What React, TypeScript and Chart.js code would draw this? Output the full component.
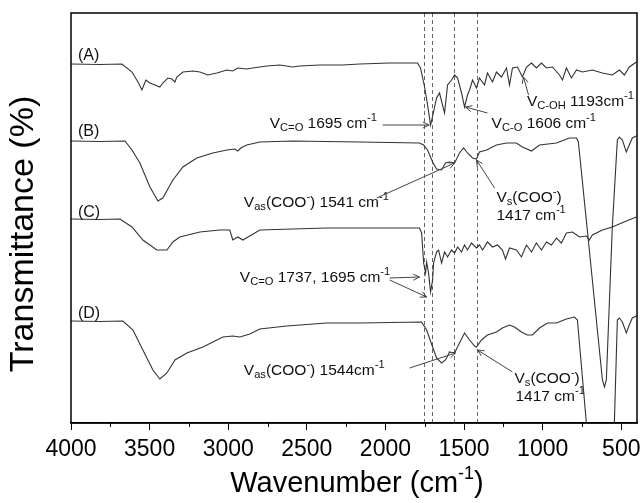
import React, { useEffect, useRef } from 'react';
import { Chart, registerables } from 'chart.js';
Chart.register(...registerables);

const FONT = '"Liberation Sans", Arial, sans-serif';
const X_MIN = 400;
const X_MAX = 4000;
const Y_MIN = 0;
const Y_MAX = 82;
const xTicks = [4000, 3500, 3000, 2500, 2000, 1500, 1000, 500];
const xMinorTicks = [3750, 3250, 2750, 2250, 1750, 1250, 750];
const dashedLines = [1755, 1705, 1565, 1420];

const wnA = [4000,3816,3676,3612,3574,3549,3524,3498,3466,3435,3416,3384,3358,3339,3327,3288,3225,3180,3130,3072,3009,2971,2939,2882,2844,2755,2672,2590,2545,2418,2272,2164,1973,1796,1777,1751,1732,1713,1694,1675,1656,1637,1624,1605,1580,1560,1541,1516,1497,1478,1465,1446,1421,1402,1370,1351,1319,1294,1262,1230,1211,1192,1160,1129,1103,1071,1040,1008,976,938,893,874,849,817,785,747,684,620,557,512,480,449,404];
const tA = [71.8,71.7,71.8,70.2,68.2,66.6,68.6,68.0,67.6,67.2,68.0,69.0,68.8,68.2,69.2,70.2,70.4,70.2,69.6,70.0,70.6,70.4,71.0,70.8,71.0,71.4,71.6,71.2,71.4,71.6,71.6,71.8,72.0,72.0,71.0,67.2,63.6,59.6,62.2,65.0,66.0,63.6,62.0,67.6,68.6,69.6,69.0,66.0,63.2,65.6,66.6,68.6,67.0,69.0,67.6,70.0,68.2,70.2,69.2,71.0,67.6,71.0,71.2,69.2,71.2,72.0,71.0,72.0,71.0,71.2,69.6,68.6,71.0,69.0,70.6,70.2,70.6,70.0,69.6,70.6,69.6,71.2,72.2];

const wnB = [4000,3816,3657,3612,3562,3498,3447,3416,3352,3288,3200,3098,3009,2958,2939,2920,2882,2799,2590,2164,1783,1757,1732,1700,1675,1643,1618,1592,1560,1529,1503,1478,1446,1421,1402,1357,1294,1230,1167,1129,1071,1020,912,830,785,773,716,620,607,595,557,525,512,493,468,449,430,404];
const tB = [56.4,56.3,56.4,54.6,52.0,47.2,44.4,45.0,48.6,51.2,53.0,54.0,54.6,54.8,54.4,55.0,55.6,56.2,56.4,56.2,56.0,55.6,54.6,52.2,50.8,50.6,52.0,52.2,52.0,54.0,55.0,54.0,53.0,52.8,54.2,54.6,55.6,56.0,56.0,55.2,54.4,55.6,56.0,57.0,57.0,56.2,38.6,8.6,7.2,8.6,39.2,56.6,57.2,56.6,54.2,55.6,57.0,57.4];

const wnC = [4000,3816,3689,3612,3543,3454,3390,3352,3308,3180,3053,2990,2971,2939,2907,2863,2799,2590,2374,2164,1783,1770,1757,1745,1738,1726,1713,1700,1694,1675,1662,1643,1624,1605,1580,1560,1541,1516,1497,1478,1453,1421,1402,1382,1351,1319,1287,1256,1236,1211,1167,1135,1103,1071,1040,1008,976,944,912,881,849,811,766,722,703,684,620,557,468,404];
const tC = [40.8,40.7,40.8,39.2,36.6,34.6,34.6,36.2,37.2,38.2,38.6,38.6,36.6,37.2,36.6,37.4,38.6,38.8,39.0,39.0,39.0,38.0,32.0,30.0,32.2,30.0,26.2,28.6,32.0,34.2,34.6,32.0,34.2,33.2,34.6,34.0,35.2,34.2,35.6,34.6,36.0,35.0,35.6,34.6,36.2,35.2,35.6,34.6,32.8,35.0,34.6,33.2,35.6,34.2,36.0,34.6,36.2,35.6,37.0,36.0,38.0,38.2,37.2,37.4,36.6,37.6,38.6,39.2,40.4,41.2];

const wnD = [4000,3816,3670,3606,3543,3479,3435,3390,3339,3263,3161,3034,2971,2926,2863,2799,2628,2374,2164,1770,1738,1700,1675,1643,1618,1592,1560,1529,1497,1465,1433,1421,1389,1351,1294,1256,1211,1179,1135,1097,1065,1020,970,912,849,798,779,722,633,544,525,512,493,468,449,430,404];
const tD = [20.4,20.3,20.4,18.6,14.6,10.6,8.8,10.0,12.6,14.0,15.2,17.2,17.4,17.2,17.8,18.8,19.4,20.0,20.0,20.2,18.6,15.2,13.0,12.0,12.6,14.2,14.0,16.0,18.0,16.6,15.4,15.2,16.6,17.6,18.2,19.0,19.6,19.2,18.2,17.6,17.6,19.0,20.0,20.0,20.8,21.2,20.6,0,-35.4,0,20.6,21.0,20.2,18.0,19.6,21.0,21.4];

const seriesNames = ['(A)', '(B)', '(C)', '(D)'];
const seriesWn = [wnA, wnB, wnC, wnD];
const seriesT = [tA, tB, tC, tD];
const seriesLabelWn = [3956, 3956, 3956, 3956];
const seriesLabelT = [73.8, 58.6, 42.4, 22.2];

const annTexts = [
  'V_{C=O} 1695 cm^{-1}',
  'V_{C-O} 1606 cm^{-1}',
  'V_{C-OH} 1193cm^{-1}',
  'V_{as}(COO^{-}) 1541 cm^{-1}',
  'V_{s}(COO^{-})',
  '1417 cm^{-1}',
  'V_{C=O} 1737, 1695 cm^{-1}',
  'V_{as}(COO^{-}) 1544cm^{-1}',
  'V_{s}(COO^{-})',
  '1417 cm^{-1}',
];
const annWn = [2736, 1325, 1100, 2901, 1294, 1294, 2926, 2901, 1179, 1173];
const annT = [60.2, 60.2, 64.6, 44.4, 45.4, 41.8, 29.4, 10.8, 9.2, 5.6];

const arrowFromWn = [2018, 1351, 1090, 2056, 1306, 1973, 1973, 1846, 1192];
const arrowFromT = [59.6, 62.0, 65.6, 45.0, 47.0, 29.0, 28.6, 11.0, 10.2];
const arrowToWn = [1722, 1491, 1122, 1560, 1421, 1783, 1738, 1554, 1414];
const arrowToT = [59.6, 63.2, 69.2, 52.0, 52.6, 29.2, 25.2, 14.0, 14.6];

type Seg = { t: string; k: number };
function parseRich(s: string): Seg[] {
  const segs: Seg[] = [];
  let buf = '';
  let i = 0;
  while (i < s.length) {
    const c = s[i];
    if ((c === '_' || c === '^') && s[i + 1] === '{') {
      if (buf) { segs.push({ t: buf, k: 0 }); buf = ''; }
      const end = s.indexOf('}', i);
      segs.push({ t: s.slice(i + 2, end), k: c === '_' ? -1 : 1 });
      i = end + 1;
    } else { buf += c; i++; }
  }
  if (buf) segs.push({ t: buf, k: 0 });
  return segs;
}

function drawRich(ctx: CanvasRenderingContext2D, s: string, x: number, baseline: number, size: number, align: string, smallScale = 0.7, supRaise = 0.42, subDrop = 0.22) {
  const segs = parseRich(s);
  const small = size * smallScale;
  let w = 0;
  for (const sg of segs) {
    ctx.font = `${sg.k === 0 ? size : small}px ${FONT}`;
    w += ctx.measureText(sg.t).width;
  }
  let cx = align === 'center' ? x - w / 2 : x;
  ctx.textAlign = 'left';
  ctx.textBaseline = 'alphabetic';
  for (const sg of segs) {
    ctx.font = `${sg.k === 0 ? size : small}px ${FONT}`;
    const dy = sg.k === -1 ? size * subDrop : sg.k === 1 ? -size * supRaise : 0;
    ctx.fillText(sg.t, cx, baseline + dy);
    cx += ctx.measureText(sg.t).width;
  }
}

function drawArrow(ctx: CanvasRenderingContext2D, x1: number, y1: number, x2: number, y2: number) {
  const ang = Math.atan2(y2 - y1, x2 - x1);
  const L = 7;
  const sp = 0.45;
  ctx.beginPath();
  ctx.moveTo(x1, y1);
  ctx.lineTo(x2, y2);
  ctx.moveTo(x2 - L * Math.cos(ang - sp), y2 - L * Math.sin(ang - sp));
  ctx.lineTo(x2, y2);
  ctx.lineTo(x2 - L * Math.cos(ang + sp), y2 - L * Math.sin(ang + sp));
  ctx.stroke();
}

const overlay = {
  id: 'overlay',
  beforeDatasetsDraw(chart: any) {
    const { ctx, chartArea: a, scales } = chart;
    const x = scales.x;
    ctx.save();
    ctx.strokeStyle = '#666';
    ctx.lineWidth = 1;
    ctx.setLineDash([4, 3]);
    for (const v of dashedLines) {
      const px = Math.round(x.getPixelForValue(v)) + 0.5;
      ctx.beginPath();
      ctx.moveTo(px, a.top);
      ctx.lineTo(px, a.bottom);
      ctx.stroke();
    }
    ctx.restore();
  },
  afterDraw(chart: any) {
    const { ctx, chartArea: a, scales } = chart;
    const x = scales.x;
    const y = scales.y;
    ctx.save();
    ctx.strokeStyle = '#000';
    ctx.lineWidth = 1.5;
    ctx.strokeRect(a.left, a.top, a.right - a.left, a.bottom - a.top);
    ctx.lineWidth = 1;
    for (const v of xMinorTicks) {
      const px = Math.round(x.getPixelForValue(v)) + 0.5;
      ctx.beginPath();
      ctx.moveTo(px, a.bottom);
      ctx.lineTo(px, a.bottom + 4);
      ctx.stroke();
    }
    ctx.fillStyle = '#111';
    for (let i = 0; i < seriesNames.length; i++) {
      drawRich(ctx, seriesNames[i], x.getPixelForValue(seriesLabelWn[i]), y.getPixelForValue(seriesLabelT[i]) + 5.5, 16, 'left');
    }
    for (let i = 0; i < annTexts.length; i++) {
      drawRich(ctx, annTexts[i], x.getPixelForValue(annWn[i]), y.getPixelForValue(annT[i]) + 5.5, 15.5, 'left', 0.72, 0.4, 0.25);
    }
    ctx.strokeStyle = '#444';
    ctx.lineWidth = 1;
    for (let i = 0; i < arrowFromWn.length; i++) {
      drawArrow(ctx,
        x.getPixelForValue(arrowFromWn[i]), y.getPixelForValue(arrowFromT[i]),
        x.getPixelForValue(arrowToWn[i]), y.getPixelForValue(arrowToT[i]));
    }
    ctx.fillStyle = '#000';
    drawRich(ctx, 'Wavenumber (cm^{-1})', (a.left + a.right) / 2 + 3, 492, 29, 'center', 0.62, 0.45, 0);
    ctx.save();
    ctx.translate(24, (a.top + a.bottom) / 2 + 16);
    ctx.rotate(-Math.PI / 2);
    ctx.font = `34px ${FONT}`;
    ctx.textAlign = 'center';
    ctx.textBaseline = 'middle';
    ctx.fillText('Transmittance (%)', 0, 0);
    ctx.restore();
    ctx.restore();
  },
};

export default function App() {
  const ref = useRef<HTMLCanvasElement | null>(null);
  useEffect(() => {
    if (!ref.current) return;
    const datasets = seriesWn.map((wns, i) => ({
      label: seriesNames[i],
      data: wns.map((w, j) => ({ x: w, y: seriesT[i][j] })),
      borderColor: '#333',
      borderWidth: 1.1,
      pointRadius: 0,
      tension: 0,
      fill: false,
      clip: 0,
    }));
    const chart = new Chart(ref.current, {
      type: 'line',
      data: { datasets },
      options: {
        animation: false,
        responsive: false,
        maintainAspectRatio: false,
        layout: { padding: { top: 13, right: 3, left: 0, bottom: 0 } },
        plugins: { legend: { display: false }, tooltip: { enabled: false }, title: { display: false } },
        scales: {
          x: {
            type: 'linear',
            min: X_MIN,
            max: X_MAX,
            reverse: true,
            afterBuildTicks: (s: any) => { s.ticks = xTicks.map((v) => ({ value: v })); },
            afterFit: (s: any) => { s.height = 80; s.paddingLeft = 0; s.paddingRight = 0; },
            ticks: {
              autoSkip: false,
              maxRotation: 0,
              color: '#000',
              padding: 6,
              font: { family: FONT, size: 23 },
              callback: (v: any) => String(v),
            },
            grid: { display: true, drawOnChartArea: false, drawTicks: true, tickLength: 7, color: '#000', lineWidth: 1 },
            border: { display: true, color: '#000', width: 1.5 },
          },
          y: {
            type: 'linear',
            min: Y_MIN,
            max: Y_MAX,
            ticks: { display: false },
            grid: { display: false },
            border: { display: false },
            afterFit: (s: any) => { s.width = 71; s.paddingTop = 0; s.paddingBottom = 0; },
          },
        },
      },
      plugins: [overlay],
    });
    return () => chart.destroy();
  }, []);
  return (
    <div style={{ position: 'fixed', left: 0, top: 0, width: 640, height: 503, background: '#fff' }}>
      <canvas ref={ref} width={640} height={503} style={{ display: 'block', width: 640, height: 503 }} />
    </div>
  );
}
